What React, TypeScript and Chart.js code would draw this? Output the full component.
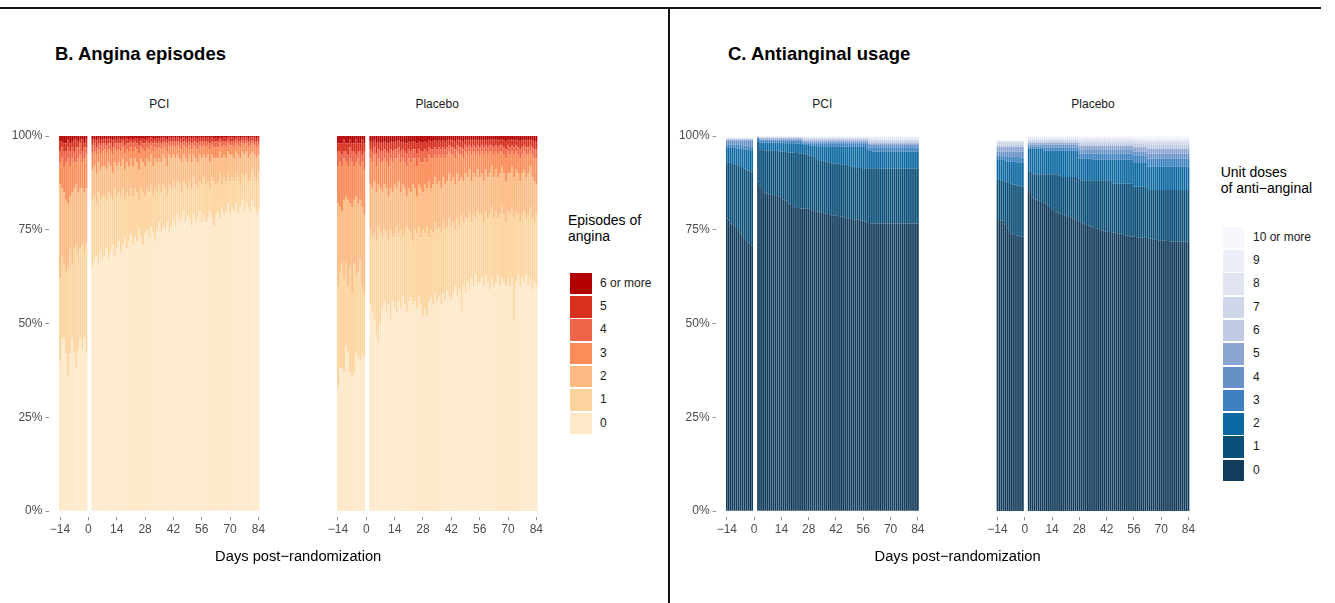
import React, { useEffect, useRef } from "react";
import { Chart, registerables } from "chart.js";
Chart.register(...registerables);

const FONT = "'Liberation Sans', Arial, Helvetica, sans-serif";

// ---------------- categories / ticks ----------------
const preDays = [-14, -13, -12, -11, -10, -9, -8, -7, -6, -5, -4, -3, -2, -1];
const postDays = [
  2, 3, 4, 5, 6, 7,
  8, 9, 10, 11, 12, 13, 14,
  15, 16, 17, 18, 19, 20, 21,
  22, 23, 24, 25, 26, 27, 28,
  29, 30, 31, 32, 33, 34, 35,
  36, 37, 38, 39, 40, 41, 42,
  43, 44, 45, 46, 47, 48, 49,
  50, 51, 52, 53, 54, 55, 56,
  57, 58, 59, 60, 61, 62, 63,
  64, 65, 66, 67, 68, 69, 70,
  71, 72, 73, 74, 75, 76, 77,
  78, 79, 80, 81, 82, 83, 84,
];
const xTickValues = [-14, 0, 14, 28, 42, 56, 70, 84];
const yTickValues = [0, 25, 50, 75, 100];

const anginaLabels = ["0", "1", "2", "3", "4", "5", "6 or more"];
const anginaColors = ["#fee8c8", "#fdd49e", "#fdbb84", "#fc8d59", "#ef6548", "#d7301f", "#b30000"];
const doseLabels = ["0", "1", "2", "3", "4", "5", "6", "7", "8", "9", "10 or more"];
const doseColors = ["#133c5c", "#0c4f78", "#0d69a1", "#3c80c0", "#6690c6", "#8ba4d0", "#bfcae3", "#d0d6ea", "#e1e5f1", "#eceff7", "#f7f8fd"];

// ---------------- B. Angina episodes: cumulative % of patients with <= k episodes ----------------
// each array: 14 pre-randomization days, then days 2..84
const pciAnginaTop0 = [
  40, 46, 46, 42, 36, 42, 46, 42, 38, 43, 46, 43, 46, 42,
  65, 67, 68, 66, 69, 67,
  68, 70, 67, 69, 71, 68, 70,
  72, 69, 71, 73, 70, 72, 74,
  71, 73, 72, 75, 73, 71, 74,
  75, 73, 76, 74, 72, 75, 77,
  74, 76, 75, 77, 74, 76, 78,
  76, 79, 77, 78, 80, 77, 79,
  78, 76, 79, 77, 78, 80, 77,
  79, 77, 78, 80, 78, 76, 79,
  80, 78, 81, 79, 80, 82, 79,
  81, 80, 82, 79, 81, 83, 80,
  82, 81, 80, 83, 81, 79, 80,
];
const pciAnginaTop1 = [
  62, 68, 66, 64, 65, 70, 66, 70, 71, 69, 70, 71, 69, 72,
  83, 84, 82, 85, 83, 84,
  84, 83, 85, 84, 83, 86, 84,
  85, 84, 86, 83, 85, 84, 86,
  84, 86, 85, 83, 86, 85, 84,
  86, 85, 87, 84, 86, 85, 87,
  85, 87, 86, 84, 87, 86, 88,
  86, 88, 87, 85, 88, 87, 86,
  88, 86, 89, 87, 86, 88, 87,
  89, 87, 88, 86, 89, 88, 87,
  88, 90, 87, 89, 88, 90, 88,
  89, 88, 90, 89, 87, 90, 89,
  90, 88, 89, 91, 89, 88, 90,
];
const pciAnginaTop2 = [
  87, 86, 85, 83, 82, 84, 85, 86, 87, 85, 86, 86, 85, 86,
  91, 92, 90, 93, 91, 92,
  92, 91, 93, 92, 90, 93, 92,
  93, 92, 94, 91, 93, 92, 94,
  92, 94, 93, 91, 94, 93, 92,
  94, 93, 95, 92, 94, 93, 94,
  93, 95, 94, 92, 95, 94, 95,
  94, 95, 94, 93, 95, 94, 93,
  95, 93, 95, 94, 93, 95, 94,
  95, 94, 95, 93, 95, 94, 94,
  94, 96, 94, 95, 94, 96, 95,
  95, 94, 96, 95, 94, 96, 95,
  96, 94, 95, 96, 95, 94, 95,
];
const pciAnginaTop3 = [
  93, 94, 92, 93, 94, 92, 94, 93, 93, 94, 95, 93, 94, 95,
  95.5, 96, 95, 96.5, 95.5, 96,
  96.5, 95.5, 96.5, 96, 95, 96.5, 96,
  96.5, 96, 97, 95.5, 96.5, 96, 97,
  96, 97, 96.5, 95.5, 97, 96.5, 96,
  97, 96.5, 97.5, 96, 97, 96.5, 97,
  96.5, 97.5, 97, 96, 97.5, 97, 97.5,
  97, 97.5, 97, 96.5, 97.5, 97, 96.5,
  97.5, 96.5, 97.5, 97, 96.5, 97.5, 97,
  97.5, 97, 97.5, 96.5, 97.5, 97, 97,
  97, 98, 97, 97.5, 97, 98, 97.5,
  97.5, 97, 98, 97.5, 97, 98, 97.5,
  98, 97, 97.5, 98, 97.5, 97, 97.5,
];
const pciAnginaTop4 = [
  96, 97, 96, 96, 97, 96, 97, 96, 97, 97, 98, 96, 97, 97,
  97.5, 98, 97, 98, 97.5, 98,
  98, 97.5, 98, 98, 97, 98, 98,
  98, 98, 98.5, 97.5, 98, 98, 98.5,
  98, 98.5, 98, 97.5, 98.5, 98, 98,
  98.5, 98, 98.5, 98, 98.5, 98, 98.5,
  98, 98.5, 98.5, 98, 98.5, 98.5, 98.5,
  98.5, 98.5, 98.5, 98, 98.5, 98.5, 98,
  98.5, 98, 98.5, 98.5, 98, 98.5, 98.5,
  98.5, 98.5, 98.5, 98, 98.5, 98.5, 98.5,
  98.5, 99, 98.5, 98.5, 98.5, 99, 98.5,
  98.5, 98.5, 99, 98.5, 98.5, 99, 98.5,
  99, 98.5, 98.5, 99, 98.5, 98.5, 98.5,
];
const pciAnginaTop5 = [
  98.5, 98.5, 98, 98, 99, 98, 98.5, 99, 99, 98.5, 99, 99, 98, 99,
  99, 99.2, 98.8, 99.3, 99, 99.2,
  99.3, 99, 99.3, 99.2, 98.8, 99.3, 99.2,
  99.3, 99.2, 99.5, 99, 99.3, 99.2, 99.5,
  99.2, 99.5, 99.3, 99, 99.5, 99.3, 99.2,
  99.5, 99.3, 99.6, 99.2, 99.5, 99.3, 99.5,
  99.3, 99.6, 99.5, 99.2, 99.6, 99.5, 99.6,
  99.5, 99.6, 99.5, 99.3, 99.6, 99.5, 99.3,
  99.6, 99.3, 99.6, 99.5, 99.3, 99.6, 99.5,
  99.6, 99.5, 99.6, 99.3, 99.6, 99.5, 99.5,
  99.5, 99.7, 99.5, 99.6, 99.5, 99.7, 99.6,
  99.6, 99.5, 99.7, 99.6, 99.5, 99.7, 99.6,
  99.7, 99.5, 99.6, 99.7, 99.6, 99.5, 99.6,
];

const plcAnginaTop0 = [
  33, 38, 38, 37, 44, 42, 37, 36, 37, 42, 41, 40, 42, 41,
  55, 53, 51, 47, 45, 50,
  54, 56, 53, 55, 51, 56, 54,
  53, 56, 54, 57, 55, 53, 56,
  57, 55, 56, 54, 57, 55, 52,
  54, 52, 56, 57, 55, 58, 56,
  57, 55, 58, 56, 59, 57, 56,
  58, 60, 57, 59, 53, 60, 58,
  61, 59, 62, 60, 63, 60, 61,
  62, 60, 63, 61, 59, 62, 60,
  61, 63, 60, 62, 61, 60, 62,
  60, 62, 51, 61, 63, 60, 62,
  61, 63, 60, 62, 59, 61, 60,
];
const plcAnginaTop1 = [
  60, 64, 66, 62, 66, 60, 65, 58, 66, 63, 64, 67, 60, 58,
  75, 73, 74, 72, 76, 74,
  73, 75, 74, 72, 75, 73, 74,
  76, 74, 75, 73, 74, 76, 75,
  74, 72, 75, 74, 76, 73, 75,
  74, 76, 73, 75, 74, 77, 75,
  76, 74, 77, 75, 76, 78, 76,
  77, 75, 78, 76, 79, 77, 78,
  78, 80, 77, 79, 78, 80, 79,
  79, 77, 80, 78, 79, 81, 78,
  80, 78, 79, 81, 79, 77, 80,
  79, 81, 78, 80, 79, 77, 79,
  80, 78, 79, 81, 78, 77, 79,
];
const plcAnginaTop2 = [
  82, 81, 80, 83, 84, 83, 82, 81, 83, 84, 82, 83, 81, 79,
  87, 86, 88, 85, 87, 86,
  85, 87, 86, 84, 86, 85, 87,
  86, 88, 85, 87, 86, 84, 86,
  85, 87, 86, 84, 87, 86, 85,
  87, 86, 88, 86, 87, 89, 87,
  88, 86, 89, 87, 88, 90, 88,
  89, 87, 90, 88, 89, 88, 90,
  89, 91, 88, 90, 89, 91, 89,
  90, 88, 91, 89, 90, 92, 89,
  91, 89, 90, 92, 90, 88, 90,
  90, 92, 89, 91, 90, 88, 90,
  91, 89, 90, 92, 89, 88, 87,
];
const plcAnginaTop3 = [
  92, 93, 92, 94, 93, 92, 94, 93, 92, 93, 94, 92, 93, 91,
  94, 93, 95, 92, 94, 93,
  93, 94, 93, 92, 94, 93, 94,
  94, 95, 93, 94, 93, 92, 94,
  93, 94, 94, 92, 94, 93, 93,
  94, 93, 95, 94, 94, 95, 94,
  95, 94, 95, 94, 95, 96, 95,
  95, 94, 96, 95, 95, 94, 96,
  95, 96, 95, 96, 95, 96, 95,
  96, 95, 96, 95, 96, 96, 95,
  96, 95, 96, 96, 95, 94, 96,
  95, 96, 95, 96, 95, 94, 95,
  96, 95, 95, 96, 95, 94, 94,
];
const plcAnginaTop4 = [
  96, 96, 95, 96, 96, 95, 97, 96, 96, 95, 96, 96, 95, 96,
  96.5, 96, 97, 95.5, 96.5, 96,
  96, 96.5, 96, 95.5, 96.5, 96, 96.5,
  96.5, 97, 96, 96.5, 96, 95.5, 96.5,
  96, 96.5, 96.5, 95.5, 96.5, 96, 96,
  96.5, 96, 97, 96.5, 96.5, 97, 96.5,
  97, 96.5, 97, 96.5, 97, 97.5, 97,
  97, 96.5, 97.5, 97, 97, 96.5, 97.5,
  97, 97.5, 97, 97.5, 97, 97.5, 97,
  97.5, 97, 97.5, 97, 97.5, 97.5, 97,
  97.5, 97, 97.5, 97.5, 97, 96.5, 97.5,
  97, 97.5, 97, 97.5, 97, 96.5, 97,
  97.5, 97, 97, 97.5, 97, 96.5, 96.5,
];
const plcAnginaTop5 = [
  98, 98, 98, 99, 98, 98, 99, 98, 98, 99, 98, 98, 99, 98,
  98.5, 98.2, 98.8, 98, 98.5, 98.2,
  98.2, 98.5, 98.2, 98, 98.5, 98.2, 98.5,
  98.5, 98.8, 98.2, 98.5, 98.2, 98, 98.5,
  98.2, 98.5, 98.5, 98, 98.5, 98.2, 98.2,
  98.5, 98.2, 98.8, 98.5, 98.5, 98.8, 98.5,
  98.8, 98.5, 98.8, 98.5, 98.8, 99, 98.8,
  98.8, 98.5, 99, 98.8, 98.8, 98.5, 99,
  98.8, 99, 98.8, 99, 98.8, 99, 98.8,
  99, 98.8, 99, 98.8, 99, 99, 98.8,
  99, 98.8, 99, 99, 98.8, 98.5, 99,
  98.8, 99, 98.8, 99, 98.8, 98.5, 98.8,
  99, 98.8, 98.8, 99, 98.8, 98.5, 98.5,
];

// ---------------- C. Antianginal usage: cumulative % of patients with <= k unit doses ----------------
const pciDoseTop0 = [
  78, 77.5, 76.7, 76.5, 75.8, 75.5, 75, 74, 73.5, 72.7, 72.2, 71.6, 71.2, 70.9,
  87.8, 86.5, 85.6, 85, 84.6, 84.6,
  84.4, 84.3, 84.3, 84.2, 84, 83.8, 83.5,
  83, 82.9, 82.5, 82, 81.6, 81.3, 81,
  80.8, 80.8, 80.7, 80.7, 80.6, 80.6, 80.6,
  80.5, 80.2, 80, 79.8, 79.8, 79.6, 79.5,
  79.4, 79.3, 79.2, 79, 78.9, 78.9, 78.8,
  78.7, 78.6, 78.5, 78.3, 78.2, 78.1, 78,
  77.9, 77.8, 77.7, 77.7, 77.6, 77.5, 77.4,
  77.2, 77, 76.8, 76.7, 76.7, 76.7, 76.7,
  76.7, 76.7, 76.7, 76.7, 76.7, 76.7, 76.7,
  76.7, 76.7, 76.7, 76.7, 76.7, 76.7, 76.7,
  76.7, 76.7, 76.7, 76.7, 76.7, 76.7, 76.7,
];
const pciDoseTop1 = [
  93, 93, 92.8, 92.6, 92.5, 92.2, 92, 91.8, 91.5, 91.3, 91, 90.8, 90.6, 90.5,
  98.5, 96.5, 96.3, 96.2, 96.2, 96.2,
  96.1, 96.1, 96, 96, 96, 95.9, 95.9,
  95.8, 95.8, 95.7, 95.7, 95.6, 95.6, 95.5,
  95.5, 95.4, 95.4, 95.3, 95.2, 95, 94.9,
  94.8, 94.6, 94.4, 94, 93.6, 93.5, 93.4,
  93.3, 93.2, 93, 92.8, 92.7, 92.7, 92.6,
  92.6, 92.5, 92.5, 92.4, 92.3, 92.2, 92,
  91.9, 91.8, 91.7, 91.6, 91.5, 91.5, 91.4,
  91.4, 91.4, 91.4, 91.4, 91.4, 91.4, 91.4,
  91.3, 91.3, 91.3, 91.3, 91.3, 91.3, 91.3,
  91.3, 91.3, 91.3, 91.3, 91.3, 91.3, 91.3,
  91.3, 91.3, 91.3, 91.3, 91.3, 91.3, 91.3,
];
const pciDoseTop2 = [
  97, 97, 96.9, 96.8, 96.8, 96.7, 96.7, 96.6, 96.5, 96.4, 96.4, 96.3, 96.2, 96.2,
  99.3, 98.2, 98.2, 98.2, 98.2, 98.2,
  98.2, 98.2, 98.2, 98.2, 98.2, 98.2, 98.2,
  98.1, 98.1, 98.1, 98.1, 98.1, 98.1, 98.1,
  98, 98, 97.9, 97.8, 97.6, 97.6, 97.6,
  97.5, 97.5, 97.4, 97.3, 97.3, 97.3, 97.3,
  97.3, 97.3, 97.3, 97.3, 97.3, 97.3, 97.3,
  97.2, 97.2, 97.2, 97.2, 97.2, 97.2, 97.2,
  97.2, 97.2, 97.2, 97.2, 97.2, 97.2, 97.2,
  97.1, 96.5, 96, 96, 95.9, 95.9, 95.9,
  95.9, 95.9, 95.9, 95.9, 95.9, 95.9, 95.9,
  95.9, 95.9, 95.9, 95.9, 95.9, 95.9, 95.9,
  95.9, 95.9, 95.9, 95.9, 95.9, 95.9, 95.9,
];
const pciDoseTop3 = [
  97.8, 97.8, 97.8, 97.7, 97.7, 97.6, 97.6, 97.6, 97.5, 97.5, 97.4, 97.4, 97.3, 97.3,
  99.5, 98.7, 98.7, 98.7, 98.7, 98.7,
  98.7, 98.7, 98.7, 98.7, 98.7, 98.7, 98.7,
  98.7, 98.7, 98.7, 98.7, 98.7, 98.7, 98.7,
  98.7, 98.7, 98.7, 98.1, 98.1, 98.1, 98.1,
  98.1, 98.1, 98.1, 98.1, 98.1, 98.1, 98.1,
  98.1, 98.1, 98.1, 98.1, 98.1, 98.1, 98.1,
  98.1, 98.1, 98.1, 98.1, 98.1, 98.1, 98.1,
  98.1, 98.1, 98.1, 98.1, 98.1, 98.1, 98.1,
  98.1, 98.1, 97, 97, 97, 97, 97,
  97, 97, 97, 97, 97, 97, 97,
  97, 97, 97, 97, 97, 97, 97,
  97, 97, 97, 97, 97, 97, 97,
];
const pciDoseTop4 = [
  98.7, 98.7, 98.7, 98.7, 98.7, 98.7, 98.7, 98.7, 98.7, 98.7, 98.7, 98.7, 98.7, 98.7,
  99.65, 99.1, 99.1, 99.1, 99.1, 99.1,
  99.1, 99.1, 99.1, 99.1, 99.1, 99.1, 99.1,
  99.1, 99.1, 99.1, 99.1, 99.1, 99.1, 99.1,
  99.1, 99.1, 99.1, 98.5, 98.5, 98.5, 98.5,
  98.5, 98.5, 98.5, 98.5, 98.5, 98.5, 98.5,
  98.5, 98.5, 98.5, 98.5, 98.5, 98.5, 98.5,
  98.5, 98.5, 98.5, 98.5, 98.5, 98.5, 98.5,
  98.5, 98.5, 98.5, 98.5, 98.5, 98.5, 98.5,
  98.5, 98.5, 97.6, 97.6, 97.6, 97.6, 97.6,
  97.6, 97.6, 97.6, 97.6, 97.6, 97.6, 97.6,
  97.6, 97.6, 97.6, 97.6, 97.6, 97.6, 97.6,
  97.6, 97.6, 97.6, 97.6, 97.6, 97.6, 97.6,
];
const pciDoseTop5 = [
  99.1, 99.1, 99.1, 99.1, 99.1, 99.1, 99.1, 99.1, 99.1, 99.1, 99.1, 99.1, 99.1, 99.1,
  99.75, 99.4, 99.4, 99.4, 99.4, 99.4,
  99.4, 99.4, 99.4, 99.4, 99.4, 99.4, 99.4,
  99.4, 99.4, 99.4, 99.4, 99.4, 99.4, 99.4,
  99.4, 99.4, 99.4, 98.9, 98.9, 98.9, 98.9,
  98.9, 98.9, 98.9, 98.9, 98.9, 98.9, 98.9,
  98.9, 98.9, 98.9, 98.9, 98.9, 98.9, 98.9,
  98.9, 98.9, 98.9, 98.9, 98.9, 98.9, 98.9,
  98.9, 98.9, 98.9, 98.9, 98.9, 98.9, 98.9,
  98.9, 98.9, 98.1, 98.1, 98.1, 98.1, 98.1,
  98.1, 98.1, 98.1, 98.1, 98.1, 98.1, 98.1,
  98.1, 98.1, 98.1, 98.1, 98.1, 98.1, 98.1,
  98.1, 98.1, 98.1, 98.1, 98.1, 98.1, 98.1,
];
const pciDoseTop6 = [
  99.3, 99.3, 99.3, 99.3, 99.3, 99.3, 99.3, 99.3, 99.3, 99.3, 99.3, 99.3, 99.3, 99.3,
  99.82, 99.6, 99.6, 99.6, 99.6, 99.6,
  99.6, 99.6, 99.6, 99.6, 99.6, 99.6, 99.6,
  99.6, 99.6, 99.6, 99.6, 99.6, 99.6, 99.6,
  99.6, 99.6, 99.6, 99.2, 99.2, 99.2, 99.2,
  99.2, 99.2, 99.2, 99.2, 99.2, 99.2, 99.2,
  99.2, 99.2, 99.2, 99.2, 99.2, 99.2, 99.2,
  99.2, 99.2, 99.2, 99.2, 99.2, 99.2, 99.2,
  99.2, 99.2, 99.2, 99.2, 99.2, 99.2, 99.2,
  99.2, 99.2, 98.7, 98.7, 98.7, 98.7, 98.7,
  98.7, 98.7, 98.7, 98.7, 98.7, 98.7, 98.7,
  98.7, 98.7, 98.7, 98.7, 98.7, 98.7, 98.7,
  98.7, 98.7, 98.7, 98.7, 98.7, 98.7, 98.7,
];
const pciDoseTop7 = [
  99.4, 99.4, 99.4, 99.4, 99.4, 99.4, 99.4, 99.4, 99.4, 99.4, 99.4, 99.4, 99.4, 99.4,
  99.88, 99.75, 99.75, 99.75, 99.75, 99.75,
  99.75, 99.75, 99.75, 99.75, 99.75, 99.75, 99.75,
  99.75, 99.75, 99.75, 99.75, 99.75, 99.75, 99.75,
  99.75, 99.75, 99.75, 99.5, 99.5, 99.5, 99.5,
  99.5, 99.5, 99.5, 99.5, 99.5, 99.5, 99.5,
  99.5, 99.5, 99.5, 99.5, 99.5, 99.5, 99.5,
  99.5, 99.5, 99.5, 99.5, 99.5, 99.5, 99.5,
  99.5, 99.5, 99.5, 99.5, 99.5, 99.5, 99.5,
  99.5, 99.5, 99.1, 99.1, 99.1, 99.1, 99.1,
  99.1, 99.1, 99.1, 99.1, 99.1, 99.1, 99.1,
  99.1, 99.1, 99.1, 99.1, 99.1, 99.1, 99.1,
  99.1, 99.1, 99.1, 99.1, 99.1, 99.1, 99.1,
];
const pciDoseTop8 = [
  99.5, 99.5, 99.5, 99.5, 99.5, 99.5, 99.5, 99.5, 99.5, 99.5, 99.5, 99.5, 99.5, 99.5,
  99.93, 99.85, 99.85, 99.85, 99.85, 99.85,
  99.85, 99.85, 99.85, 99.85, 99.85, 99.85, 99.85,
  99.85, 99.85, 99.85, 99.85, 99.85, 99.85, 99.85,
  99.85, 99.85, 99.85, 99.7, 99.7, 99.7, 99.7,
  99.7, 99.7, 99.7, 99.7, 99.7, 99.7, 99.7,
  99.7, 99.7, 99.7, 99.7, 99.7, 99.7, 99.7,
  99.7, 99.7, 99.7, 99.7, 99.7, 99.7, 99.7,
  99.7, 99.7, 99.7, 99.7, 99.7, 99.7, 99.7,
  99.7, 99.7, 99.5, 99.5, 99.5, 99.5, 99.5,
  99.5, 99.5, 99.5, 99.5, 99.5, 99.5, 99.5,
  99.5, 99.5, 99.5, 99.5, 99.5, 99.5, 99.5,
  99.5, 99.5, 99.5, 99.5, 99.5, 99.5, 99.5,
];
const pciDoseTop9 = [
  99.55, 99.55, 99.55, 99.55, 99.55, 99.55, 99.55, 99.55, 99.55, 99.55, 99.55, 99.55, 99.55, 99.55,
  99.97, 99.95, 99.95, 99.95, 99.95, 99.95,
  99.95, 99.95, 99.95, 99.95, 99.95, 99.95, 99.95,
  99.95, 99.95, 99.95, 99.95, 99.95, 99.95, 99.95,
  99.95, 99.95, 99.95, 99.9, 99.9, 99.9, 99.9,
  99.9, 99.9, 99.9, 99.9, 99.9, 99.9, 99.9,
  99.9, 99.9, 99.9, 99.9, 99.9, 99.9, 99.9,
  99.9, 99.9, 99.9, 99.9, 99.9, 99.9, 99.9,
  99.9, 99.9, 99.9, 99.9, 99.9, 99.9, 99.9,
  99.9, 99.9, 99.8, 99.8, 99.8, 99.8, 99.8,
  99.8, 99.8, 99.8, 99.8, 99.8, 99.8, 99.8,
  99.8, 99.8, 99.8, 99.8, 99.8, 99.8, 99.8,
  99.8, 99.8, 99.8, 99.8, 99.8, 99.8, 99.8,
];
const pciDoseTotal = [
  99.6, 99.6, 99.6, 99.6, 99.6, 99.6, 99.6, 99.6, 99.6, 99.6, 99.6, 99.6, 99.6, 99.6,
  100, 100, 100, 100, 100, 100,
  100, 100, 100, 100, 100, 100, 100,
  100, 100, 100, 100, 100, 100, 100,
  100, 100, 100, 100, 100, 100, 100,
  100, 100, 100, 100, 100, 100, 100,
  100, 100, 100, 100, 100, 100, 100,
  100, 100, 100, 100, 100, 100, 100,
  100, 100, 100, 100, 100, 100, 100,
  100, 100, 100, 100, 100, 100, 100,
  100, 100, 100, 100, 100, 100, 100,
  100, 100, 100, 100, 100, 100, 100,
  100, 100, 100, 100, 100, 100, 100,
];

const plcDoseTop0 = [
  77.6, 77.6, 77.5, 77.4, 76.5, 75.7, 74.8, 74.1, 73.8, 73.6, 73.4, 73.3, 73.3, 73.2,
  85.8, 85, 83.6, 83.1, 83, 82.8,
  82.6, 82.4, 82.2, 82, 81.4, 80.8, 80.5,
  80, 79.8, 79.6, 79.4, 79.2, 79, 78.8,
  78.6, 78.4, 78.2, 78.1, 77.8, 77.4, 77.1,
  76.9, 76.7, 76.5, 76.3, 76.1, 75.9, 75.7,
  75.5, 75.4, 75.2, 75, 74.8, 74.6, 74.5,
  74.4, 74.4, 74.3, 74.2, 74.1, 74.1, 74,
  73.8, 73.6, 73.5, 73.4, 73.3, 73.2, 73.2,
  73.1, 73, 73, 72.9, 72.9, 72.8, 72.8,
  72.7, 72.6, 72.5, 72.4, 72.3, 72.2, 72.2,
  72.1, 72.1, 72, 72, 71.9, 71.9, 71.9,
  71.8, 71.8, 71.8, 71.8, 71.8, 71.8, 71.8,
];
const plcDoseTop1 = [
  88.4, 88.3, 88.2, 88, 87.8, 87.7, 87.5, 87.3, 87.1, 87, 86.9, 86.8, 86.6, 86.5,
  90.9, 90.5, 90, 89.8, 89.8, 89.8,
  89.8, 89.8, 89.8, 89.8, 89.8, 89.8, 89.8,
  89.8, 89.8, 89.8, 89.4, 89.1, 89.1, 89.1,
  89.1, 89.1, 89.1, 89.1, 89.1, 89.1, 88.6,
  88.2, 88.2, 88.2, 88.2, 88.2, 88.2, 88.2,
  88.2, 88.2, 88.2, 88.2, 88.2, 88.2, 88.2,
  88.2, 88.2, 87.3, 87.3, 87.3, 87.3, 87.3,
  87.3, 87.3, 87.3, 87.3, 87.3, 87.3, 86.5,
  86.5, 86.5, 86.5, 86.5, 86.5, 86.5, 85.6,
  85.6, 85.6, 85.6, 85.6, 85.6, 85.6, 85.6,
  85.6, 85.6, 85.6, 85.6, 85.6, 85.6, 85.6,
  85.6, 85.6, 85.6, 85.6, 85.6, 85.6, 85.6,
];
const plcDoseTop2 = [
  93.8, 93.8, 93.7, 93.6, 93.4, 93.3, 93.2, 93.2, 93.1, 93.1, 93, 93, 92.9, 92.9,
  96.7, 96.7, 96.7, 96.7, 96.7, 96.7,
  96.7, 96.7, 96.1, 96.1, 96.1, 96.1, 96.1,
  96.1, 96.1, 96.1, 96.1, 96.1, 96.1, 96.1,
  96.1, 96.1, 96.1, 96.1, 96.1, 96.1, 94,
  94, 94, 94, 94, 94, 94, 93.7,
  93.7, 93.7, 93.7, 93.7, 93.7, 93.7, 93.7,
  93.7, 93.7, 93.7, 93.7, 93.7, 93.7, 93.7,
  93.7, 93.7, 93.7, 93.7, 93.7, 93.7, 93,
  93, 93, 93, 93, 93, 93, 91.8,
  91.8, 91.8, 91.8, 91.8, 91.8, 91.8, 91.8,
  91.8, 91.8, 91.8, 91.8, 91.8, 91.8, 91.8,
  91.8, 91.8, 91.8, 91.8, 91.8, 91.8, 91.8,
];
const plcDoseTop3 = [
  94.8, 94.8, 94.7, 94.7, 94.6, 94.6, 94.5, 94.5, 94.5, 94.4, 94.4, 94.4, 94.3, 94.3,
  97.2, 97.2, 97.2, 97.2, 97.2, 97.2,
  97.2, 97.2, 96.9, 96.9, 96.9, 96.9, 96.9,
  96.9, 96.9, 96.9, 96.9, 96.9, 96.9, 96.9,
  96.9, 96.9, 96.9, 96.9, 96.9, 96.9, 95.3,
  95.3, 95.3, 95.3, 95.3, 95.3, 95.3, 95.3,
  95.3, 95.3, 95.3, 95.3, 95.3, 95.3, 95.3,
  95.3, 95.3, 95.3, 95.3, 95.3, 95.3, 95.3,
  95.3, 95.3, 95.3, 95.3, 95.3, 95.3, 94.7,
  94.7, 94.7, 94.7, 94.7, 94.7, 94.7, 94,
  94, 94, 94, 94, 94, 94, 94,
  94, 94, 94, 94, 94, 94, 94,
  94, 94, 94, 94, 94, 94, 94,
];
const plcDoseTop4 = [
  95.8, 95.8, 95.8, 95.8, 95.8, 95.8, 95.8, 95.8, 95.8, 95.8, 95.8, 95.8, 95.8, 95.8,
  97.7, 97.7, 97.7, 97.7, 97.7, 97.7,
  97.7, 97.7, 97.7, 97.7, 97.7, 97.7, 97.7,
  97.7, 97.7, 97.7, 97.7, 97.7, 97.7, 97.7,
  97.7, 97.7, 97.7, 97.7, 97.7, 97.7, 96.3,
  96.3, 96.3, 96.3, 96.3, 96.3, 96.3, 96.3,
  96.3, 96.3, 96.3, 96.3, 96.3, 96.3, 96.3,
  96.3, 96.3, 96.3, 96.3, 96.3, 96.3, 96.3,
  96.3, 96.3, 96.3, 96.3, 96.3, 96.3, 95.8,
  95.8, 95.8, 95.8, 95.8, 95.8, 95.8, 95.3,
  95.3, 95.3, 95.3, 95.3, 95.3, 95.3, 95.3,
  95.3, 95.3, 95.3, 95.3, 95.3, 95.3, 95.3,
  95.3, 95.3, 95.3, 95.3, 95.3, 95.3, 95.3,
];
const plcDoseTop5 = [
  97.1, 97.1, 97.1, 97.1, 97.1, 97.1, 97.1, 97.1, 97.1, 97.1, 97.1, 97.1, 97.1, 97.1,
  98.2, 98.2, 98.2, 98.2, 98.2, 98.2,
  98.2, 98.2, 98.2, 98.2, 98.2, 98.2, 98.2,
  98.2, 98.2, 98.2, 98.2, 98.2, 98.2, 98.2,
  98.2, 98.2, 98.2, 98.2, 98.2, 98.2, 97.4,
  97.4, 97.4, 97.4, 97.4, 97.4, 97.4, 97.4,
  97.4, 97.4, 97.4, 97.4, 97.4, 97.4, 97.4,
  97.4, 97.4, 97.4, 97.4, 97.4, 97.4, 97.4,
  97.4, 97.4, 97.4, 97.4, 97.4, 97.4, 97,
  97, 97, 97, 97, 97, 97, 96.6,
  96.6, 96.6, 96.6, 96.6, 96.6, 96.6, 96.6,
  96.6, 96.6, 96.6, 96.6, 96.6, 96.6, 96.6,
  96.6, 96.6, 96.6, 96.6, 96.6, 96.6, 96.6,
];
const plcDoseTop6 = [
  97.8, 97.8, 97.8, 97.8, 97.8, 97.8, 97.8, 97.8, 97.8, 97.8, 97.8, 97.8, 97.8, 97.8,
  98.7, 98.7, 98.7, 98.7, 98.7, 98.7,
  98.7, 98.7, 98.7, 98.7, 98.7, 98.7, 98.7,
  98.7, 98.7, 98.7, 98.7, 98.7, 98.7, 98.7,
  98.7, 98.7, 98.7, 98.7, 98.7, 98.7, 98.2,
  98.2, 98.2, 98.2, 98.2, 98.2, 98.2, 98.2,
  98.2, 98.2, 98.2, 98.2, 98.2, 98.2, 98.2,
  98.2, 98.2, 98.2, 98.2, 98.2, 98.2, 98.2,
  98.2, 98.2, 98.2, 98.2, 98.2, 98.2, 97.9,
  97.9, 97.9, 97.9, 97.9, 97.9, 97.9, 97.6,
  97.6, 97.6, 97.6, 97.6, 97.6, 97.6, 97.6,
  97.6, 97.6, 97.6, 97.6, 97.6, 97.6, 97.6,
  97.6, 97.6, 97.6, 97.6, 97.6, 97.6, 97.6,
];
const plcDoseTop7 = [
  98.4, 98.4, 98.4, 98.4, 98.4, 98.4, 98.4, 98.4, 98.4, 98.4, 98.4, 98.4, 98.4, 98.4,
  99.1, 99.1, 99.1, 99.1, 99.1, 99.1,
  99.1, 99.1, 99.1, 99.1, 99.1, 99.1, 99.1,
  99.1, 99.1, 99.1, 99.1, 99.1, 99.1, 99.1,
  99.1, 99.1, 99.1, 99.1, 99.1, 99.1, 98.8,
  98.8, 98.8, 98.8, 98.8, 98.8, 98.8, 98.8,
  98.8, 98.8, 98.8, 98.8, 98.8, 98.8, 98.8,
  98.8, 98.8, 98.8, 98.8, 98.8, 98.8, 98.8,
  98.8, 98.8, 98.8, 98.8, 98.8, 98.8, 98.6,
  98.6, 98.6, 98.6, 98.6, 98.6, 98.6, 98.4,
  98.4, 98.4, 98.4, 98.4, 98.4, 98.4, 98.4,
  98.4, 98.4, 98.4, 98.4, 98.4, 98.4, 98.4,
  98.4, 98.4, 98.4, 98.4, 98.4, 98.4, 98.4,
];
const plcDoseTop8 = [
  98.6, 98.6, 98.6, 98.6, 98.6, 98.6, 98.6, 98.6, 98.6, 98.6, 98.6, 98.6, 98.6, 98.6,
  99.5, 99.5, 99.5, 99.5, 99.5, 99.5,
  99.5, 99.5, 99.5, 99.5, 99.5, 99.5, 99.5,
  99.5, 99.5, 99.5, 99.5, 99.5, 99.5, 99.5,
  99.5, 99.5, 99.5, 99.5, 99.5, 99.5, 99.3,
  99.3, 99.3, 99.3, 99.3, 99.3, 99.3, 99.3,
  99.3, 99.3, 99.3, 99.3, 99.3, 99.3, 99.3,
  99.3, 99.3, 99.3, 99.3, 99.3, 99.3, 99.3,
  99.3, 99.3, 99.3, 99.3, 99.3, 99.3, 99.1,
  99.1, 99.1, 99.1, 99.1, 99.1, 99.1, 99,
  99, 99, 99, 99, 99, 99, 99,
  99, 99, 99, 99, 99, 99, 99,
  99, 99, 99, 99, 99, 99, 99,
];
const plcDoseTop9 = [
  98.8, 98.8, 98.8, 98.8, 98.8, 98.8, 98.8, 98.8, 98.8, 98.8, 98.8, 98.8, 98.8, 98.8,
  99.8, 99.8, 99.8, 99.8, 99.8, 99.8,
  99.8, 99.8, 99.8, 99.8, 99.8, 99.8, 99.8,
  99.8, 99.8, 99.8, 99.8, 99.8, 99.8, 99.8,
  99.8, 99.8, 99.8, 99.8, 99.8, 99.8, 99.7,
  99.7, 99.7, 99.7, 99.7, 99.7, 99.7, 99.7,
  99.7, 99.7, 99.7, 99.7, 99.7, 99.7, 99.7,
  99.7, 99.7, 99.7, 99.7, 99.7, 99.7, 99.7,
  99.7, 99.7, 99.7, 99.7, 99.7, 99.7, 99.6,
  99.6, 99.6, 99.6, 99.6, 99.6, 99.6, 99.5,
  99.5, 99.5, 99.5, 99.5, 99.5, 99.5, 99.5,
  99.5, 99.5, 99.5, 99.5, 99.5, 99.5, 99.5,
  99.5, 99.5, 99.5, 99.5, 99.5, 99.5, 99.5,
];
const plcDoseTotal = [
  98.9, 98.9, 98.9, 98.9, 98.9, 98.9, 98.9, 98.9, 98.9, 98.9, 98.9, 98.9, 98.9, 98.9,
  100, 100, 100, 100, 100, 100,
  100, 100, 100, 100, 100, 100, 100,
  100, 100, 100, 100, 100, 100, 100,
  100, 100, 100, 100, 100, 100, 100,
  100, 100, 100, 100, 100, 100, 100,
  100, 100, 100, 100, 100, 100, 100,
  100, 100, 100, 100, 100, 100, 100,
  100, 100, 100, 100, 100, 100, 100,
  100, 100, 100, 100, 100, 100, 100,
  100, 100, 100, 100, 100, 100, 100,
  100, 100, 100, 100, 100, 100, 100,
  100, 100, 100, 100, 100, 100, 100,
];

// ---------------- layout ----------------
const Y_MIN = -1.5;
const Y_MAX = 101.5;
const PX_PER_PCT = 3.75; // 0% at y=511, 100% at y=136
const AREA_BOTTOM = 511 - Y_MIN * PX_PER_PCT;
const AREA_TOP = 136 - (Y_MAX - 100) * PX_PER_PCT;
const CANVAS_TOP = 100;
const CANVAS_H = 460;
const X_AXIS_H = 30;
const MINUS = "\u2212";

function fmtDay(v: number) {
  return v < 0 ? MINUS + Math.abs(v) : String(v);
}

type FacetProps = {
  areaLeft: number;
  areaRight: number;
  showY: boolean;
  tops: number[][];
  total: number[] | null;
  colors: string[];
  labels: string[];
  barPct: number;
};

function Facet({ areaLeft, areaRight, showY, tops, total, colors, labels, barPct }: FacetProps) {
  const ref = useRef<HTMLCanvasElement>(null);
  const canvasLeft = Math.floor(areaLeft - 45);
  const canvasW = Math.ceil(areaRight - canvasLeft + 15);
  const padLeft = areaLeft - canvasLeft;
  const padRight = canvasLeft + canvasW - areaRight;
  const padTop = AREA_TOP - CANVAS_TOP;
  const padBottom = CANVAS_TOP + CANVAS_H - X_AXIS_H - AREA_BOTTOM;

  useEffect(() => {
    if (!ref.current) return;
    const days = preDays.concat(postDays);
    const datasets = colors.map((color, k) => {
      const upper = k < tops.length ? tops[k] : total;
      const lower = k > 0 ? tops[k - 1] : null;
      return {
        label: labels[k],
        data: days.map((d, i) => ({
          x: d,
          y: (upper ? upper[i] : 100) - (lower ? lower[i] : 0),
        })),
        backgroundColor: color,
        borderWidth: 0,
        barPercentage: barPct,
        categoryPercentage: 1,
      };
    });
    const tickFont = { family: FONT, size: 12 };
    const chart = new Chart(ref.current, {
      type: "bar",
      data: { datasets: datasets as any },
      options: {
        animation: false,
        responsive: false,
        maintainAspectRatio: false,
        devicePixelRatio: 1,
        layout: {
          padding: { left: showY ? 0 : padLeft, right: padRight, top: padTop, bottom: padBottom },
        },
        plugins: { legend: { display: false }, tooltip: { enabled: false } },
        scales: {
          x: {
            type: "linear",
            stacked: true,
            min: -19.4,
            max: 89.4,
            offset: false,
            afterBuildTicks: (s: any) => {
              s.ticks = xTickValues.map((v) => ({ value: v }));
            },
            afterFit: (s: any) => {
              s.height = X_AXIS_H;
            },
            grid: { display: true, drawOnChartArea: false, drawTicks: true, tickLength: 3.7, color: "#666", lineWidth: 0.7, offset: false },
            border: { display: false },
            ticks: {
              autoSkip: false,
              maxRotation: 0,
              minRotation: 0,
              padding: 2,
              color: "#4d4d4d",
              font: tickFont,
              callback: (v: any) => fmtDay(Number(v)),
            },
          },
          y: {
            type: "linear",
            stacked: true,
            min: Y_MIN,
            max: Y_MAX,
            display: showY,
            afterBuildTicks: (s: any) => {
              s.ticks = yTickValues.map((v) => ({ value: v }));
            },
            afterFit: (s: any) => {
              if (showY) s.width = padLeft;
            },
            grid: { display: true, drawOnChartArea: false, drawTicks: true, tickLength: 3.7, color: "#666", lineWidth: 0.7 },
            border: { display: false },
            ticks: {
              padding: 3,
              color: "#4d4d4d",
              font: tickFont,
              callback: (v: any) => v + "%",
            },
          },
        },
      } as any,
    });
    return () => chart.destroy();
  }, []);

  return (
    <canvas
      ref={ref}
      width={canvasW}
      height={CANVAS_H}
      style={{ position: "absolute", left: canvasLeft, top: CANVAS_TOP, width: canvasW, height: CANVAS_H }}
    />
  );
}

function Txt(props: { x: number; y: number; size: number; text: string; bold?: boolean; color?: string; center?: boolean }) {
  const { x, y, size, text, bold, color, center } = props;
  return (
    <div
      style={{
        position: "absolute",
        left: x,
        top: y,
        transform: `translate(${center ? "-50%" : "0"}, -50%)`,
        fontFamily: FONT,
        fontSize: size,
        fontWeight: bold ? "bold" : "normal",
        color: color || "#000",
        whiteSpace: "nowrap",
        lineHeight: 1.15,
      }}
    >
      {text}
    </div>
  );
}

function Legend(props: { left: number; keysTop: number; labelLeft: number; title: string[]; titleTop: number; labels: string[]; colors: string[] }) {
  const { left, keysTop, labelLeft, title, titleTop, labels, colors } = props;
  const n = labels.length;
  const items = [];
  for (let i = 0; i < n; i++) {
    const k = n - 1 - i;
    const top = keysTop + i * 23.3;
    items.push(
      <div key={"k" + k} style={{ position: "absolute", left, top, width: 21.7, height: 21.5, background: colors[k] }} />
    );
    items.push(<Txt key={"l" + k} x={labelLeft} y={top + 11} size={12} text={labels[k]} color="#1a1a1a" />);
  }
  return (
    <>
      {title.map((t, i) => (
        <Txt key={"t" + i} x={left - 2} y={titleTop + i * 15.5} size={14} text={t} color="#000" />
      ))}
      {items}
    </>
  );
}

const X_TITLE = "Days post" + MINUS + "randomization";

export default function App() {
  const B_PCI = [49.1, 269.4];
  const B_PLC = [327, 547.3];
  const C_PCI = [716.3, 928.4];
  const C_PLC = [987, 1199];
  return (
    <div style={{ position: "fixed", left: 0, top: 0, width: 1335, height: 603, background: "#fff", overflow: "hidden" }}>
      <div style={{ position: "absolute", left: 0, top: 7, width: 1321, height: 2, background: "#111" }} />
      <div style={{ position: "absolute", left: 668, top: 8, width: 2, height: 595, background: "#111" }} />

      <Txt x={55} y={54} size={18.5} bold text="B. Angina episodes" />
      <Txt x={728} y={54} size={18.5} bold text="C. Antianginal usage" />

      <Txt x={(B_PCI[0] + B_PCI[1]) / 2} y={105} size={12} center text="PCI" color="#1a1a1a" />
      <Txt x={(B_PLC[0] + B_PLC[1]) / 2} y={105} size={12} center text="Placebo" color="#1a1a1a" />
      <Txt x={(C_PCI[0] + C_PCI[1]) / 2} y={105} size={12} center text="PCI" color="#1a1a1a" />
      <Txt x={(C_PLC[0] + C_PLC[1]) / 2} y={105} size={12} center text="Placebo" color="#1a1a1a" />

      <Facet areaLeft={B_PCI[0]} areaRight={B_PCI[1]} showY barPct={0.92}
        tops={[pciAnginaTop0, pciAnginaTop1, pciAnginaTop2, pciAnginaTop3, pciAnginaTop4, pciAnginaTop5]}
        total={null} colors={anginaColors} labels={anginaLabels} />
      <Facet areaLeft={B_PLC[0]} areaRight={B_PLC[1]} showY={false} barPct={0.92}
        tops={[plcAnginaTop0, plcAnginaTop1, plcAnginaTop2, plcAnginaTop3, plcAnginaTop4, plcAnginaTop5]}
        total={null} colors={anginaColors} labels={anginaLabels} />
      <Facet areaLeft={C_PCI[0]} areaRight={C_PCI[1]} showY barPct={0.88}
        tops={[pciDoseTop0, pciDoseTop1, pciDoseTop2, pciDoseTop3, pciDoseTop4, pciDoseTop5, pciDoseTop6, pciDoseTop7, pciDoseTop8, pciDoseTop9]}
        total={pciDoseTotal} colors={doseColors} labels={doseLabels} />
      <Facet areaLeft={C_PLC[0]} areaRight={C_PLC[1]} showY={false} barPct={0.88}
        tops={[plcDoseTop0, plcDoseTop1, plcDoseTop2, plcDoseTop3, plcDoseTop4, plcDoseTop5, plcDoseTop6, plcDoseTop7, plcDoseTop8, plcDoseTop9]}
        total={plcDoseTotal} colors={doseColors} labels={doseLabels} />

      <Txt x={(B_PCI[0] + B_PLC[1]) / 2} y={556} size={14.7} center text={X_TITLE} />
      <Txt x={(C_PCI[0] + C_PLC[1]) / 2} y={556} size={14.7} center text={X_TITLE} />

      <Legend left={570} keysTop={272.7} labelLeft={600} title={["Episodes of", "angina"]} titleTop={220}
        labels={anginaLabels} colors={anginaColors} />
      <Legend left={1222.7} keysTop={226.7} labelLeft={1253} title={["Unit doses", "of anti" + MINUS + "anginal"]} titleTop={172}
        labels={doseLabels} colors={doseColors} />
    </div>
  );
}
